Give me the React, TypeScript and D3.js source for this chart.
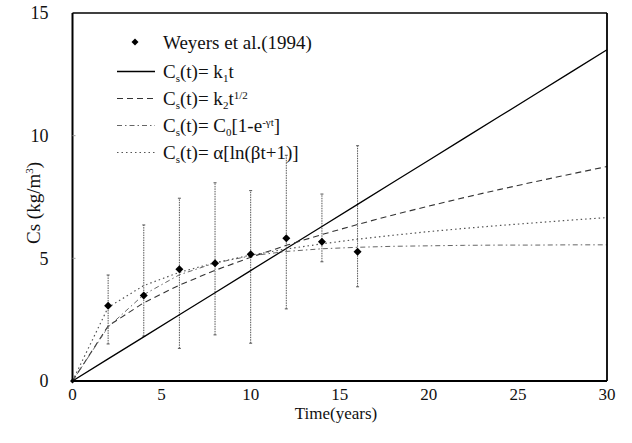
import React from "react";
import * as d3 from "d3";

// model curves (years, kg/m^3)
const modelTimes = [0, 2, 4, 6, 8, 10, 12, 14, 16, 18, 20, 22, 24, 26, 28, 30];
const linearFit = [0, 0.9, 1.8, 2.7, 3.6, 4.5, 5.4, 6.3, 7.2, 8.1, 9.0, 9.9, 10.8, 11.7, 12.6, 13.5];
const sqrtFit = [0, 2.24, 3.19, 3.91, 4.51, 5.04, 5.53, 5.97, 6.38, 6.77, 7.13, 7.48, 7.81, 8.13, 8.44, 8.74];
const expFit = [0, 2.2, 3.52, 4.33, 4.81, 5.1, 5.28, 5.39, 5.45, 5.49, 5.51, 5.53, 5.54, 5.54, 5.55, 5.55];
const logFit = [0, 3.0, 3.89, 4.43, 4.82, 5.13, 5.38, 5.59, 5.78, 5.94, 6.09, 6.22, 6.34, 6.45, 6.56, 6.66];

// Weyers et al. (1994) observations
const obsTimes = [0, 2, 4, 6, 8, 10, 12, 14, 16];
const obsCs = [0, 3.07, 3.48, 4.55, 4.8, 5.17, 5.82, 5.68, 5.27];
const errLow = [0, 1.51, 1.83, 1.33, 1.88, 1.54, 2.94, 4.86, 3.84];
const errHigh = [0, 4.32, 6.36, 7.45, 8.08, 7.76, 9.2, 7.62, 9.59];

const xTicks = [0, 5, 10, 15, 20, 25, 30];
const yTicks = [0, 5, 10, 15];

const TS = { fontFamily: '"Liberation Serif"' };

export default function App() {
  const W = 632;
  const H = 443;
  const x = d3.scaleLinear().domain([0, 30]).range([72.5, 607]);
  const y = d3.scaleLinear().domain([0, 15]).range([381, 13]);

  const line = d3
    .line<number>()
    .x((_, i) => x(modelTimes[i]))
    .y((d) => y(d));

  const curves = [
    { data: linearFit, dash: undefined, color: "#000", w: 1.3 },
    { data: sqrtFit, dash: "6,4", color: "#333", w: 1.1 },
    { data: expFit, dash: "5,3,1.5,3", color: "#666", w: 1 },
    { data: logFit, dash: "1.5,3", color: "#555", w: 1.2 },
  ];

  const diamond = (cx: number, cy: number, r: number) =>
    `M${cx},${cy - r}L${cx + r},${cy}L${cx},${cy + r}L${cx - r},${cy}Z`;

  const legendRows = [
    { yy: 71.5, dash: undefined, color: "#000", w: 1.3 },
    { yy: 98.5, dash: "6,4", color: "#333", w: 1.1 },
    { yy: 125.5, dash: "5,3,1.5,3", color: "#666", w: 1 },
    { yy: 152.5, dash: "1.5,3", color: "#555", w: 1.2 },
  ];
  const lx0 = 117;
  const lx1 = 155;
  const tx = 163;
  const fs = 19;
  const sub = 11;

  const x0 = x.range()[0];
  const x1 = x.range()[1];
  const y0 = y.range()[0];
  const y1 = y.range()[1];

  return (
    <svg width={W} height={H} style={{ position: "absolute", left: 0, top: 0, background: "#fff" }}>
      <rect x={0} y={0} width={W} height={H} fill="#fff" />

      {/* error bars */}
      {obsTimes.map((t, i) =>
        errHigh[i] > errLow[i] ? (
          <g key={"e" + i} stroke="#555" strokeWidth={1}>
            <line x1={x(t)} x2={x(t)} y1={y(errLow[i])} y2={y(errHigh[i])} strokeDasharray="1.5,1" />
            <line x1={x(t) - 1.5} x2={x(t) + 1.5} y1={y(errLow[i])} y2={y(errLow[i])} />
            <line x1={x(t) - 1.5} x2={x(t) + 1.5} y1={y(errHigh[i])} y2={y(errHigh[i])} />
          </g>
        ) : null
      )}

      {/* model curves */}
      {curves.map((c, i) => (
        <path
          key={"c" + i}
          d={line(c.data) || ""}
          fill="none"
          stroke={c.color}
          strokeWidth={c.w}
          strokeDasharray={c.dash}
        />
      ))}

      {/* observations */}
      {obsTimes.map((t, i) => (
        <path key={"m" + i} d={diamond(x(t), y(obsCs[i]), i === 0 ? 2.5 : 4)} fill="#000" />
      ))}

      {/* frame */}
      <line x1={x0} x2={x1} y1={y1} y2={y1} stroke="#000" strokeWidth={1.3} />
      <line x1={x1} x2={x1} y1={y1} y2={y0} stroke="#000" strokeWidth={1.8} />
      <line x1={x0} x2={x0} y1={y1} y2={y0} stroke="#000" strokeWidth={2} />
      <line x1={x0} x2={x1} y1={y0} y2={y0} stroke="#000" strokeWidth={2} />

      {/* inner ticks */}
      {yTicks.slice(1, -1).map((v) => (
        <line key={"yt" + v} x1={x0} x2={x0 + 3} y1={y(v)} y2={y(v)} stroke="#999" strokeWidth={1} />
      ))}

      {/* tick labels */}
      {yTicks.map((v) => (
        <text key={"yl" + v} x={x0 - 24} y={y(v)} dy="0.35em" textAnchor="end" fontSize={18} fill="#111" style={TS}>
          {v}
        </text>
      ))}
      {xTicks.map((v) => (
        <text key={"xl" + v} x={x(v)} y={394} dy="0.35em" textAnchor="middle" fontSize={17} fill="#111" style={TS}>
          {v}
        </text>
      ))}

      {/* axis titles */}
      <text x={336} y={413} dy="0.35em" textAnchor="middle" fontSize={17} fill="#111" style={TS}>
        Time(years)
      </text>
      <text
        transform="translate(33,203) rotate(-90)"
        textAnchor="middle"
        dy="0.35em"
        fontSize={19}
        fill="#111"
        style={TS}
      >
        Cs (kg/m<tspan dy="-7" fontSize={11}>3</tspan>
        <tspan dy="7">)</tspan>
      </text>

      {/* legend */}
      <path d={diamond(135, 42, 3.5)} fill="#000" />
      <text x={tx} y={42} dy="0.35em" fontSize={19} fill="#111" style={TS}>
        Weyers et al.(1994)
      </text>
      {legendRows.map((r, i) => (
        <line
          key={"lg" + i}
          x1={lx0}
          x2={lx1}
          y1={r.yy}
          y2={r.yy}
          stroke={r.color}
          strokeWidth={r.w}
          strokeDasharray={r.dash}
        />
      ))}
      <text x={tx} y={legendRows[0].yy} dy="0.35em" fontSize={fs} fill="#111" style={TS}>
        C<tspan dy="4" fontSize={sub}>s</tspan>
        <tspan dy="-4">(t)= k</tspan>
        <tspan dy="4" fontSize={sub}>1</tspan>
        <tspan dy="-4">t</tspan>
      </text>
      <text x={tx} y={legendRows[1].yy} dy="0.35em" fontSize={fs} fill="#111" style={TS}>
        C<tspan dy="4" fontSize={sub}>s</tspan>
        <tspan dy="-4">(t)= k</tspan>
        <tspan dy="4" fontSize={sub}>2</tspan>
        <tspan dy="-4">t</tspan>
        <tspan dy="-6" fontSize={sub}>1/2</tspan>
      </text>
      <text x={tx} y={legendRows[2].yy} dy="0.35em" fontSize={fs} fill="#111" style={TS}>
        C<tspan dy="4" fontSize={sub}>s</tspan>
        <tspan dy="-4">(t)= C</tspan>
        <tspan dy="4" fontSize={sub}>0</tspan>
        <tspan dy="-4">[1-e</tspan>
        <tspan dy="-6" fontSize={sub}>-γt</tspan>
        <tspan dy="6">]</tspan>
      </text>
      <text x={tx} y={legendRows[3].yy} dy="0.35em" fontSize={fs} fill="#111" style={TS}>
        C<tspan dy="4" fontSize={sub}>s</tspan>
        <tspan dy="-4">(t)= α[ln(βt+1)]</tspan>
      </text>
    </svg>
  );
}
